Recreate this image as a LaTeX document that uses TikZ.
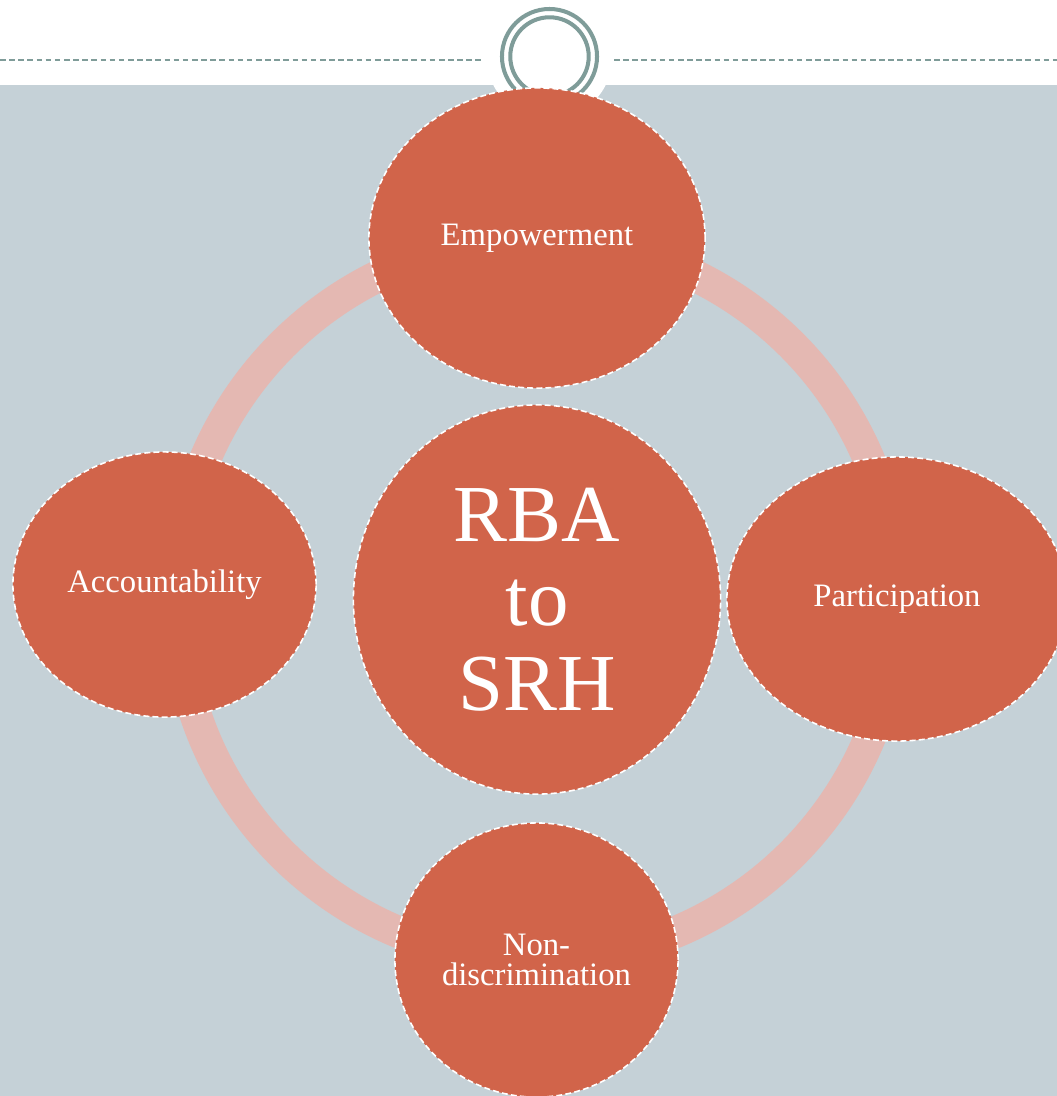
\documentclass[tikz,border=0pt]{standalone}
\usepackage{fontspec}
\setmainfont{Liberation Serif}
\usetikzlibrary{shapes.geometric}

\definecolor{slidegrey}{HTML}{C5D1D7}
\definecolor{brick}{HTML}{D1644A}
\definecolor{blush}{HTML}{E4B8B2}
\definecolor{sage}{HTML}{7F9C99}

\begin{document}
\begin{tikzpicture}[x=0.01cm, y=-0.01cm,
		bubble/.style={ellipse, fill=brick, draw=white, line width=0.45pt,
			dash pattern=on 1.7pt off 0.9pt, inner sep=0pt, text=white,
			align=center, font=\fontsize{9.3pt}{8.3pt}\selectfont},
		rule/.style={sage, line width=0.57pt, dash pattern=on 1.6pt off 1pt},
		band/.style={blush, line width=0.32cm}]

		\clip (0,0) rectangle (1057,1096);
		\fill[white] (0,0) rectangle (1057,1096);

		\coordinate (ruleL) at (0,60);
		\coordinate (ruleLend) at (483,60);
		\coordinate (ruleR) at (614,60);
		\coordinate (ruleRend) at (1057,60);
		\coordinate (knob) at (549.5,56.5);

		% slide body with notch
		\fill[slidegrey] (0,85) rectangle (1057,1096);
		\fill[white] (knob) circle[radius=0.63cm];

		\draw[rule] (ruleL) -- (ruleLend);
		\draw[rule] (ruleR) -- (ruleRend);
		\draw[sage, line width=1.14pt] (knob) circle[radius=0.475cm];
		\draw[sage, line width=1.14pt] (knob) circle[radius=0.392cm];

		\coordinate (hubC) at (537,599.5);
		\draw[band] (hubC) circle[radius=3.6cm];

		\node[bubble, minimum width=3.67cm, minimum height=3.89cm,
			font=\fontsize{23pt}{24pt}\selectfont] (hub) at (hubC) {RBA\\to\\SRH};
		\node[bubble, minimum width=3.36cm, minimum height=3.00cm] (emp) at (537,238) {Empowerment};
		\node[bubble, minimum width=3.40cm, minimum height=2.84cm] (par) at (897,599) {Participation};
		\node[bubble, minimum width=2.83cm, minimum height=2.74cm] (nondis) at (536.5,960) {Non-\\discrimination};
		\node[bubble, minimum width=3.03cm, minimum height=2.65cm] (acc) at (164.5,584.5) {Accountability};

	\end{tikzpicture}
\end{document}
